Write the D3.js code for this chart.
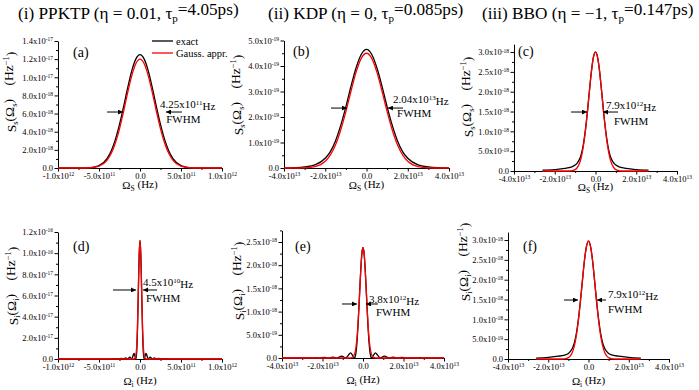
<!DOCTYPE html>
<html>
<head>
<meta charset="utf-8">
<script src="https://cdn.jsdelivr.net/npm/d3@7"></script>
<style>
  body { margin: 0; background: #fff; }
  svg, svg text { font-family: "Liberation Serif", "Times New Roman", Times, Tinos, "DejaVu Serif", serif; }
</style>
</head>
<body>
<svg width="699" height="390"></svg>
<script>
// ---------- data (x in units of xUnit Hz, y in units of yUnit Hz^-1) ----------
// (a) PPKTP signal, x: 1e11 Hz, y: 1e-17
const omegaA = [-10, -8, -7, -6, -5, -4, -3.5, -3, -2.5, -2, -1.5, -1, -0.5, 0, 0.5, 1, 1.5, 2, 2.5, 3, 3.5, 4, 5, 6, 7, 8, 10];
const exactA = [0, 0, 0.001, 0.005, 0.027, 0.107, 0.191, 0.315, 0.480, 0.677, 0.885, 1.073, 1.203, 1.25, 1.203, 1.073, 0.885, 0.677, 0.480, 0.315, 0.191, 0.107, 0.027, 0.005, 0.001, 0, 0];
const gaussA = [0, 0, 0, 0.003, 0.020, 0.088, 0.162, 0.276, 0.432, 0.624, 0.832, 1.019, 1.152, 1.20, 1.152, 1.019, 0.832, 0.624, 0.432, 0.276, 0.162, 0.088, 0.020, 0.003, 0, 0, 0];

// (b) KDP signal, x: 1e13 Hz, y: 1e-19
const omegaB = [-4, -3.5, -3, -2.5, -2, -1.75, -1.5, -1.25, -1, -0.75, -0.5, -0.25, 0, 0.25, 0.5, 0.75, 1, 1.25, 1.5, 1.75, 2, 2.5, 3, 3.5, 4];
const exactB = [0, 0.01, 0.04, 0.12, 0.38, 0.64, 1.07, 1.67, 2.40, 3.21, 3.94, 4.46, 4.65, 4.46, 3.94, 3.21, 2.40, 1.67, 1.07, 0.64, 0.38, 0.12, 0.04, 0.01, 0];
const gaussB = [0, 0, 0.008, 0.054, 0.264, 0.513, 0.913, 1.49, 2.21, 3.02, 3.77, 4.31, 4.50, 4.31, 3.77, 3.02, 2.21, 1.49, 0.913, 0.513, 0.264, 0.054, 0.008, 0, 0];

// (c) BBO signal, x: 1e13 Hz, y: 1e-18
const omegaC = [-2.6, -2, -1.5, -1.2, -1, -0.9, -0.8, -0.7, -0.6, -0.5, -0.4, -0.3, -0.2, -0.1, 0, 0.1, 0.2, 0.3, 0.4, 0.5, 0.6, 0.7, 0.8, 0.9, 1, 1.2, 1.5, 2, 2.6];
const exactC = [0.02, 0.035, 0.065, 0.10, 0.15, 0.20, 0.28, 0.42, 0.66, 1.02, 1.48, 2.01, 2.52, 2.88, 3.00, 2.88, 2.52, 2.01, 1.48, 1.02, 0.66, 0.42, 0.28, 0.20, 0.15, 0.10, 0.065, 0.035, 0.02];
const gaussC = [0, 0, 0, 0.005, 0.035, 0.082, 0.175, 0.34, 0.606, 0.988, 1.47, 2.01, 2.51, 2.87, 3.00, 2.87, 2.51, 2.01, 1.47, 0.988, 0.606, 0.34, 0.175, 0.082, 0.035, 0.005, 0, 0, 0];

// (d) PPKTP idler, x: 1e11 Hz, y: 1e-16
const omegaDExact = [-10, -5.08, -4.83, -4.57, -4.32, -4.06, -3.81, -3.56, -3.30, -3.05, -2.80, -2.54, -2.28, -2.03, -1.76, -1.52, -1.25, -1.02, -0.85, -0.73, -0.60, -0.51, -0.40, -0.30, -0.20, -0.10, 0,
  0.10, 0.20, 0.30, 0.40, 0.51, 0.60, 0.73, 0.85, 1.02, 1.25, 1.52, 1.76, 2.03, 2.28, 2.54, 2.80, 3.05, 3.30, 3.56, 3.81, 4.06, 4.32, 4.57, 4.83, 5.08, 10];
const exactD = [0, 0, 0.0013, 0, 0.0016, 0, 0.0020, 0, 0.0027, 0, 0.0037, 0, 0.0056, 0, 0.0093, 0, 0.0185, 0, 0.030, 0.053, 0.024, 0, 0.070, 0.300, 0.654, 0.983, 1.12,
  0.983, 0.654, 0.300, 0.070, 0, 0.024, 0.053, 0.030, 0, 0.0185, 0, 0.0093, 0, 0.0056, 0, 0.0037, 0, 0.0027, 0, 0.0020, 0, 0.0016, 0, 0.0013, 0, 0];
const omegaDGauss = [-10, -0.8, -0.7, -0.6, -0.5, -0.4, -0.3, -0.2, -0.1, 0, 0.1, 0.2, 0.3, 0.4, 0.5, 0.6, 0.7, 0.8, 10];
const gaussD = [0, 0, 0.001, 0.008, 0.037, 0.125, 0.326, 0.648, 0.977, 1.12, 0.977, 0.648, 0.326, 0.125, 0.037, 0.008, 0.001, 0, 0];

// (e) KDP idler, x: 1e12 Hz, y: 1e-18
const omegaEExact = [-40, -38.61, -36.4, -34.32, -32.1, -30.03, -27.8, -25.74, -23.5, -21.45, -19.2, -17.16, -14.89, -12.87, -10.55, -8.58, -7.2, -6.14, -5.2, -4.29, -4, -3.5, -3, -2.5, -2, -1.5, -1, -0.5, 0,
  0.5, 1, 1.5, 2, 2.5, 3, 3.5, 4, 4.29, 5.2, 6.14, 7.2, 8.58, 10.55, 12.87, 14.89, 17.16, 19.2, 21.45, 23.5, 25.74, 27.8, 30.03, 32.1, 34.32, 36.4, 38.61, 40];
const exactE = [0.001, 0, 0.003, 0, 0.004, 0, 0.006, 0, 0.008, 0, 0.012, 0, 0.020, 0, 0.039, 0, 0.062, 0.112, 0.062, 0, 0.012, 0.108, 0.323, 0.663, 1.097, 1.565, 1.983, 2.275, 2.38,
  2.275, 1.983, 1.565, 1.097, 0.663, 0.323, 0.108, 0.012, 0, 0.062, 0.112, 0.062, 0, 0.039, 0, 0.020, 0, 0.012, 0, 0.008, 0, 0.006, 0, 0.004, 0, 0.003, 0, 0.001];
const omegaEGauss = [-40, -7, -6, -5, -4.5, -4, -3.5, -3, -2.5, -2, -1.5, -1, -0.5, 0, 0.5, 1, 1.5, 2, 2.5, 3, 3.5, 4, 4.5, 5, 6, 7, 40];
const gaussE = [0, 0, 0.002, 0.020, 0.049, 0.110, 0.227, 0.423, 0.717, 1.104, 1.545, 1.964, 2.27, 2.38, 2.27, 1.964, 1.545, 1.104, 0.717, 0.423, 0.227, 0.110, 0.049, 0.020, 0.002, 0, 0];

// (f) BBO idler, x: 1e13 Hz, y: 1e-18
const omegaF = [-2.6, -2, -1.5, -1.2, -1, -0.9, -0.8, -0.7, -0.6, -0.5, -0.4, -0.3, -0.2, -0.1, 0, 0.1, 0.2, 0.3, 0.4, 0.5, 0.6, 0.7, 0.8, 0.9, 1, 1.2, 1.5, 2, 2.6];
const exactF = [0.02, 0.04, 0.07, 0.10, 0.14, 0.19, 0.27, 0.41, 0.65, 1.01, 1.47, 1.99, 2.49, 2.84, 2.97, 2.84, 2.49, 1.99, 1.47, 1.01, 0.65, 0.41, 0.27, 0.19, 0.14, 0.10, 0.07, 0.04, 0.02];
const gaussF = [0, 0, 0, 0.005, 0.035, 0.081, 0.173, 0.336, 0.600, 0.978, 1.46, 1.99, 2.49, 2.84, 2.97, 2.84, 2.49, 1.99, 1.46, 0.978, 0.600, 0.336, 0.173, 0.081, 0.035, 0.005, 0, 0, 0];

// tick values (same units as data)
const xTicksPPKTP = [-10, -5, 0, 5, 10];      // x 1e11
const xTicksKDPsig = [-4, -2, 0, 2, 4];        // x 1e13
const xTicksKDPidl = [-40, -20, 0, 20, 40];    // x 1e12
const yTicksA = [0, 0.2, 0.4, 0.6, 0.8, 1.0, 1.2, 1.4];
const yTicksB = [0, 1, 2, 3, 4, 5];
const yTicksC = [0, 0.5, 1.0, 1.5, 2.0, 2.5, 3.0];
const yTicksD = [0, 0.2, 0.4, 0.6, 0.8, 1.0, 1.2];
const yTicksE = [0, 0.5, 1.0, 1.5, 2.0, 2.5];

// FWHM annotations: [mantissa, exponent]
const fwhmLabels = [["4.25x10", "11"], ["2.04x10", "13"], ["7.9x10", "12"], ["4.5x10", "10"], ["3.8x10", "12"], ["7.9x10", "12"]];

const legendItems = ["exact", "Gauss. appr."];
const colors = ["#000000", "#ff0000"];

// ---------- layout ----------
const svg = d3.select("svg");
const FONT = "'Liberation Serif','Times New Roman',Times,Tinos,'DejaVu Serif',serif";

svg.append("defs").append("marker")
  .attr("id", "ah").attr("viewBox", "0 0 10 10")
  .attr("refX", 10).attr("refY", 5)
  .attr("markerWidth", 6).attr("markerHeight", 5)
  .attr("markerUnits", "userSpaceOnUse")
  .attr("orient", "auto")
  .append("path").attr("d", "M0,0L10,5L0,10z").attr("fill", "#000");

// column titles
const colTitles = [
  {x: 18, pre: "(i) PPKTP (η = 0.01, τ", post: "=4.05ps)"},
  {x: 268, pre: "(ii) KDP (η = 0, τ", post: "=0.085ps)"},
  {x: 482, pre: "(iii) BBO (η = −1, τ", post: "=0.147ps)"}
];
colTitles.forEach(t => {
  const tx = svg.append("text").attr("x", t.x).attr("y", 19)
    .attr("font-family", FONT).style("font-size", "17.2px").attr("fill", "#000");
  tx.append("tspan").text(t.pre);
  tx.append("tspan").attr("dy", "0.3em").style("font-size", "11px").text("p");
  tx.append("tspan").attr("dy", "-0.45em").text(t.post);
});

const panels = [
  {label: "(a)", box: {l: 58, r: 222, t: 41, b: 168}, xDom: [-10, 10], yDom: [0, 1.4], xUnit: 1e11, yUnit: 1e-17,
   xTicks: xTicksPPKTP, yTicks: yTicksA, sub: "s", xSub: "S",
   series: [[omegaA, exactA], [omegaA, gaussA]],
   yTitle: [11, 92], xTitleY: 189, labelPos: [73, 57],
   fwhm: {y: 0.617, lt: -4.02, lh: -2.07, rh: 3.17, rt: 5.12, tx: 2.44, ty: 0.66, fx: 3.2, fy: 0.50}},
  {label: "(b)", box: {l: 284, r: 449, t: 40.5, b: 168}, xDom: [-4, 4], yDom: [0, 5], xUnit: 1e13, yUnit: 1e-19,
   xTicks: xTicksKDPsig, yTicks: yTicksB, sub: "s", xSub: "S",
   series: [[omegaB, exactB], [omegaB, gaussB]],
   yTitle: [238, 95], xTitleY: 189, labelPos: [293, 56],
   fwhm: {y: 2.35, lt: -1.72, lh: -0.945, rh: 1.04, rt: 1.77, tx: 1.285, ty: 2.55, fx: 1.48, fy: 2.0}},
  {label: "(c)", box: {l: 514, r: 677, t: 44.1, b: 171}, xDom: [-4, 4], yDom: [0, 3.2], xUnit: 1e13, yUnit: 1e-18,
   xTicks: xTicksKDPsig, yTicks: yTicksC, sub: "s", xSub: "S",
   series: [[omegaC, exactC], [omegaC, gaussC]],
   yTitle: [468, 97], xTitleY: 191, labelPos: [518, 56],
   fwhm: {y: 1.487, lt: -1.20, lh: -0.417, rh: 0.368, rt: 1.104, tx: 0.515, ty: 1.563, fx: 0.908, fy: 1.16}},
  {label: "(d)", box: {l: 58, r: 222, t: 232, b: 359}, xDom: [-10, 10], yDom: [0, 1.2], xUnit: 1e11, yUnit: 1e-16,
   xTicks: xTicksPPKTP, yTicks: yTicksD, sub: "i", xSub: "i",
   series: [[omegaDExact, exactD], [omegaDGauss, gaussD]],
   yTitle: [13, 286], xTitleY: 385, labelPos: [73, 251],
   fwhm: {y: 0.652, lt: -3.29, lh: -0.49, rh: 0.37, rt: 2.07, tx: 0.37, ty: 0.69, fx: 0.73, fy: 0.539}},
  {label: "(e)", box: {l: 282, r: 444, t: 230.4, b: 358}, xDom: [-40, 40], yDom: [0, 2.75], xUnit: 1e12, yUnit: 1e-18,
   xTicks: xTicksKDPidl, yTicks: yTicksE, sub: "i", xSub: "i",
   series: [[omegaEExact, exactE], [omegaEGauss, gaussE]],
   yTitle: [239, 281], xTitleY: 384, labelPos: [295, 251],
   fwhm: {y: 1.164, lt: -10.37, lh: -2.96, rh: 1.48, rt: 7.41, tx: 2.96, ty: 1.185, fx: 6.42, fy: 0.905}},
  {label: "(f)", box: {l: 508, r: 669, t: 232.1, b: 359}, xDom: [-4, 4], yDom: [0, 3.2], xUnit: 1e13, yUnit: 1e-18,
   xTicks: xTicksKDPsig, yTicks: yTicksC, sub: "i", xSub: "i",
   series: [[omegaF, exactF], [omegaF, gaussF]],
   yTitle: [465, 262], xTitleY: 385, labelPos: [523, 251],
   fwhm: {y: 1.487, lt: -1.217, lh: -0.522, rh: 0.422, rt: 0.87, tx: 0.969, ty: 1.537, fx: 0.969, fy: 1.159}}
];

function sciLabel(sel, v) {
  sel.text(null);
  if (Math.abs(v) < 1e-300) { sel.text("0.0"); return; }
  const e = Math.floor(Math.log10(Math.abs(v)) + 1e-9);
  const m = v / Math.pow(10, e);
  sel.append("tspan").text(m.toFixed(1) + "x10");
  sel.append("tspan").attr("dy", "-0.5em").style("font-size", "5.5px").text(e);
}

function minorOf(ticks, dom) {
  const step = ticks[1] - ticks[0];
  const out = [];
  for (let i = 0; i < ticks.length; i++) {
    const m = ticks[i] + step / 2;
    if (m <= dom[1] + 1e-9) out.push(m);
  }
  if (ticks[0] - step / 2 >= dom[0] - 1e-9) out.unshift(ticks[0] - step / 2);
  return out;
}

panels.forEach((p, pi) => {
  const x = d3.scaleLinear().domain(p.xDom).range([p.box.l, p.box.r]);
  const y = d3.scaleLinear().domain(p.yDom).range([p.box.b, p.box.t]);
  const g = svg.append("g").attr("font-family", FONT);

  // minor ticks
  g.append("g").attr("transform", `translate(0,${p.box.b})`)
    .call(d3.axisBottom(x).tickValues(minorOf(p.xTicks, p.xDom)).tickSize(2).tickSizeOuter(0).tickFormat(() => ""))
    .call(a => a.select(".domain").remove());
  g.append("g").attr("transform", `translate(${p.box.l},0)`)
    .call(d3.axisLeft(y).tickValues(minorOf(p.yTicks, p.yDom)).tickSize(2).tickSizeOuter(0).tickFormat(() => ""))
    .call(a => a.select(".domain").remove());

  // major axes
  const xa = g.append("g").attr("transform", `translate(0,${p.box.b})`)
    .call(d3.axisBottom(x).tickValues(p.xTicks).tickSize(3.5).tickSizeOuter(0).tickPadding(1));
  xa.attr("font-family", FONT).attr("font-size", 8.5);
  xa.selectAll(".tick text").each(function (d) { sciLabel(d3.select(this), d * p.xUnit); });

  const ya = g.append("g").attr("transform", `translate(${p.box.l},0)`)
    .call(d3.axisLeft(y).tickValues(p.yTicks).tickSize(3.5).tickSizeOuter(0).tickPadding(1.5));
  ya.attr("font-family", FONT).attr("font-size", 8.5);
  ya.selectAll(".tick text").each(function (d) { sciLabel(d3.select(this), d * p.yUnit); });

  // curves
  const line = d3.line().curve(d3.curveMonotoneX);
  p.series.forEach(([xs, ys], si) => {
    g.append("path")
      .attr("d", line(xs.map((v, i) => [x(v), y(ys[i])])))
      .attr("fill", "none")
      .attr("stroke", colors[si])
      .attr("stroke-width", 1.3);
  });

  // x title
  const xt = g.append("text").attr("x", (p.box.l + p.box.r) / 2).attr("y", p.xTitleY)
    .attr("text-anchor", "middle").style("font-size", "11px");
  xt.append("tspan").text("Ω");
  xt.append("tspan").attr("dy", "0.3em").style("font-size", "7.5px").text(p.xSub);
  xt.append("tspan").attr("dy", "-0.3em").text(" (Hz)");

  // y title
  const yt = g.append("text")
    .attr("transform", `translate(${p.yTitle[0]},${p.yTitle[1]}) rotate(-90)`)
    .attr("text-anchor", "middle").attr("dy", "0.35em").style("font-size", "13.5px");
  yt.append("tspan").text("S");
  yt.append("tspan").attr("dy", "0.3em").style("font-size", "8.5px").text(p.sub);
  yt.append("tspan").attr("dy", "-0.3em").text("(Ω");
  yt.append("tspan").attr("dy", "0.3em").style("font-size", "8.5px").text(p.sub);
  yt.append("tspan").attr("dy", "-0.3em").text(")\u2003(Hz");
  yt.append("tspan").attr("dy", "-0.45em").style("font-size", "8.5px").text("−1");
  yt.append("tspan").attr("dy", "0.45em").text(")");

  // panel label
  g.append("text").attr("x", p.labelPos[0]).attr("y", p.labelPos[1])
    .style("font-size", "14px").text(p.label);

  // FWHM arrows
  const f = p.fwhm;
  [[f.lt, f.lh], [f.rt, f.rh]].forEach(([a, b]) => {
    g.append("line")
      .attr("x1", x(a)).attr("y1", y(f.y)).attr("x2", x(b)).attr("y2", y(f.y))
      .attr("stroke", "#000").attr("stroke-width", 1)
      .attr("marker-end", "url(#ah)");
  });
  const ft = g.append("text").attr("x", x(f.tx)).attr("y", y(f.ty)).style("font-size", "11px");
  ft.append("tspan").text(fwhmLabels[pi][0]);
  ft.append("tspan").attr("dy", "-0.45em").style("font-size", "7px").text(fwhmLabels[pi][1]);
  ft.append("tspan").attr("dy", "0.45em").text("Hz");
  g.append("text").attr("x", x(f.fx)).attr("y", y(f.fy)).style("font-size", "11px").text("FWHM");

  // legend (panel a only)
  if (pi === 0) {
    legendItems.forEach((name, i) => {
      const ly = 41 + i * 12;
      g.append("line").attr("x1", 152).attr("x2", 173).attr("y1", ly).attr("y2", ly)
        .attr("stroke", colors[i]).attr("stroke-width", 1.3);
      g.append("text").attr("x", 176).attr("y", ly + 3.5).style("font-size", "10.5px").text(name);
    });
  }
});
</script>
</body>
</html>
